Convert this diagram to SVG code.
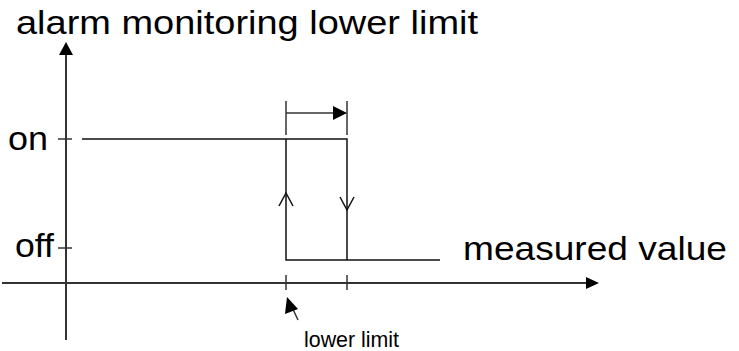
<svg xmlns="http://www.w3.org/2000/svg" width="739" height="351" viewBox="0 0 739 351">
<defs>
<style>
.ax{stroke:#333;stroke-width:2;fill:none}
.ln{stroke:#111;stroke-width:1.5;fill:none}
.tk{stroke:#333;stroke-width:1.5;fill:none}
.t{font-family:"Liberation Sans",Arial,sans-serif;fill:#000}
.head{fill:#000}
</style>
</defs>
<rect width="739" height="351" fill="#fff"/>
<g id="connectors">
<line class="ax" x1="66" y1="52" x2="66" y2="340"/>
<polygon class="head" points="66,42 59,55 73,55"/>
<line class="ax" x1="2" y1="283" x2="588" y2="283"/>
<polygon class="head" points="599,283 586,277 586,289"/>
<line class="tk" x1="58" y1="139" x2="72" y2="139"/>
<line class="tk" x1="58" y1="248" x2="72" y2="248"/>
<line class="tk" x1="286" y1="275" x2="286" y2="290"/>
<line class="tk" x1="347" y1="275" x2="347" y2="290"/>
<polyline class="ln" points="82,139 347,139 347,260"/>
<polyline class="ln" points="286,139 286,260 440,260"/>
<polyline class="ln" points="279,206 286,193 293,206"/>
<polyline class="ln" points="340,197 347,210 354,197"/>
<line class="tk" x1="286" y1="101" x2="286" y2="135"/>
<line class="tk" x1="347" y1="101" x2="347" y2="135"/>
<line class="tk" x1="286" y1="113" x2="336" y2="113"/>
<polygon class="head" points="347,113 333,106 333,120"/>
<line class="tk" x1="298" y1="320" x2="291" y2="305"/>
<polygon class="head" points="287,297 285,314 298,309"/>
</g>
<g id="title"><text class="t" x="16" y="34" font-size="33" textLength="462" lengthAdjust="spacingAndGlyphs">alarm monitoring lower limit</text></g>
<g id="on"><text class="t" x="8" y="150" font-size="34" textLength="40" lengthAdjust="spacingAndGlyphs">on</text></g>
<g id="off"><text class="t" x="15" y="257" font-size="34" textLength="39" lengthAdjust="spacingAndGlyphs">off</text></g>
<g id="measured"><text class="t" x="463" y="260" font-size="33" textLength="264" lengthAdjust="spacingAndGlyphs">measured value</text></g>
<g id="lowerlimit"><text class="t" x="304" y="347" font-size="22" textLength="95" lengthAdjust="spacingAndGlyphs">lower limit</text></g>
</svg>
